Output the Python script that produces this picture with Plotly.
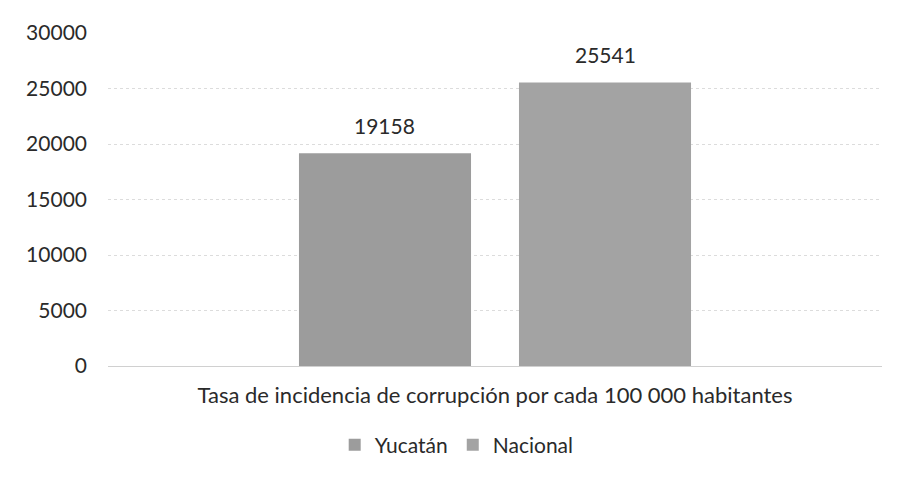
import plotly.graph_objects as go

categories = ["Tasa de incidencia de corrupción por cada 100 000 habitantes"]
yucatan = [19158]
nacional = [25541]
y_ticks = [0, 5000, 10000, 15000, 20000, 25000, 30000]
y_tick_labels = ["0", "5000", "10000", "15000", "20000", "25000", "30000"]

FS = 21
BARGAP = 0.4315
GROUPGAP = 0.218
PLOT_W = 774  # plot-area width in px (901 - l - r)

fig = go.Figure()
fig.add_trace(go.Bar(
    name="Yucatán", x=categories, y=yucatan,
    marker=dict(color="#9c9c9c", line=dict(width=0)),
))
fig.add_trace(go.Bar(
    name="Nacional", x=categories, y=nacional,
    marker=dict(color="#a3a3a3", line=dict(width=0)),
))

# value labels above the bars
slot = PLOT_W / len(categories) * (1 - BARGAP) / 2
for i, series in enumerate([yucatan, nacional]):
    shift = (i - 0.5) * slot
    for cat, v in zip(categories, series):
        fig.add_annotation(x=cat, y=v, text=str(v), showarrow=False,
                           yanchor="bottom", yshift=13, xshift=shift,
                           font=dict(size=FS, color="#2a2a2a"))

fig.update_layout(
    width=901, height=483,
    margin=dict(l=100, r=27, t=25, b=125, autoexpand=False),
    paper_bgcolor="white", plot_bgcolor="white",
    font=dict(family="Lato, Noto Sans, sans-serif", size=FS, color="#2a2a2a"),
    barmode="group", bargap=BARGAP, bargroupgap=GROUPGAP,
    showlegend=True,
    legend=dict(orientation="h", xref="container", x=0.498, xanchor="center",
                yref="container", y=0.095, yanchor="middle",
                font=dict(size=FS), traceorder="normal"),
    yaxis=dict(range=[0, 30000], tickvals=y_ticks, ticktext=y_tick_labels,
               showgrid=True, automargin=False,
               gridcolor="#dcdcdc", gridwidth=1, griddash="dot", zeroline=False,
               showline=False, ticklabelstandoff=20, tickfont=dict(size=FS)),
    xaxis=dict(showline=True, linecolor="#d0d0d0", linewidth=1, showgrid=False,
               automargin=False, tickfont=dict(size=22), ticklabelstandoff=10),
)

fig.write_html("out.html")
